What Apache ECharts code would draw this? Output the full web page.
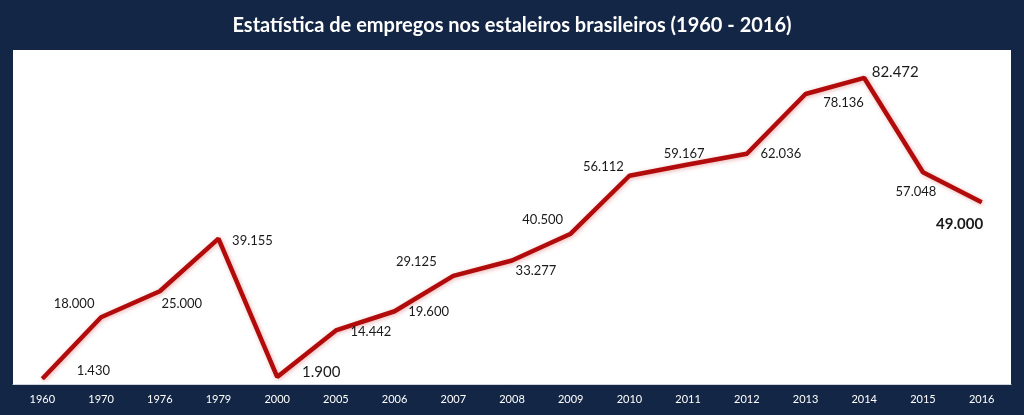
<!DOCTYPE html>
<html><head><meta charset="utf-8">
<script src="https://cdn.jsdelivr.net/npm/echarts@6/dist/echarts.min.js"></script>
<style>html,body{margin:0;padding:0;background:#132645;}#c{width:1024px;height:415px;}</style>
</head><body><div id="c"></div>
<script>
const titleText = 'Estatística de empregos nos estaleiros brasileiros (1960 - 2016)';
const years = ['1960','1970','1976','1979','2000','2005','2006','2007','2008','2009','2010','2011','2012','2013','2014','2015','2016'];
const employees = [1430,18000,25000,39155,1900,14442,19600,29125,33277,40500,56112,59167,62036,78136,82472,57048,49000];
const valueLabels = ['1.430','18.000','25.000','39.155','1.900','14.442','19.600','29.125','33.277','40.500','56.112','59.167','62.036','78.136','82.472','57.048','49.000'];
// label offsets relative to the point (layout only)
const labelOffsets = [[51,-8],[-27,-13],[22,13],[34,2],[44,-5],[35,1],[34,1],[-37,-14],[24,10],[-28,-14],[-26,-9],[-4,-11],[34,0],[38,9],[31,-6],[-7,20],[-22,22]];
const bigIdx = {4:{size:15,weight:'normal'},14:{size:15,weight:'normal'},16:{size:15,weight:'bold'}};

const data = employees.map((v,i)=>{
  const b = bigIdx[i];
  return {
    value: v,
    label: {
      show: true,
      position: 'inside',
      offset: labelOffsets[i],
      formatter: valueLabels[i],
      fontSize: b ? b.size : 13,
      fontWeight: b ? b.weight : 'normal',
      color: '#1a1a1a',
      fontFamily: 'Lato'
    }
  };
});

const chart = echarts.init(document.getElementById('c'), null, {renderer:'canvas'});
chart.setOption({
  backgroundColor: '#132645',
  animation: false,
  title: {
    text: titleText, left: 'center', top: 11,
    textStyle: {color:'#ffffff', fontSize:20, fontWeight:'bold', fontFamily:'Lato'}
  },
  grid: {left:13, right:13, top:50, bottom:31, show:true, backgroundColor:'#ffffff', borderWidth:0, containLabel:false},
  xAxis: {
    type:'category', data: years, boundaryGap:true,
    axisLine:{show:true, lineStyle:{color:'#d0d4da', width:1}},
    axisTick:{show:false},
    axisLabel:{color:'#ffffff', fontSize:11, fontFamily:'Lato', margin:10}
  },
  yAxis: {type:'value', min:0, max:90000, show:false, splitLine:{show:false}},
  series: [{
    type:'line', data: data,
    symbol:'circle', symbolSize:1, showSymbol:true,
    itemStyle:{color:'#b20b0b'},
    lineStyle:{color:'#b20b0b', width:4.5, shadowColor:'rgba(190,30,30,0.35)', shadowBlur:4, shadowOffsetX:1, shadowOffsetY:1},
    emphasis:{disabled:true}
  }]
});
</script>
</body></html>
